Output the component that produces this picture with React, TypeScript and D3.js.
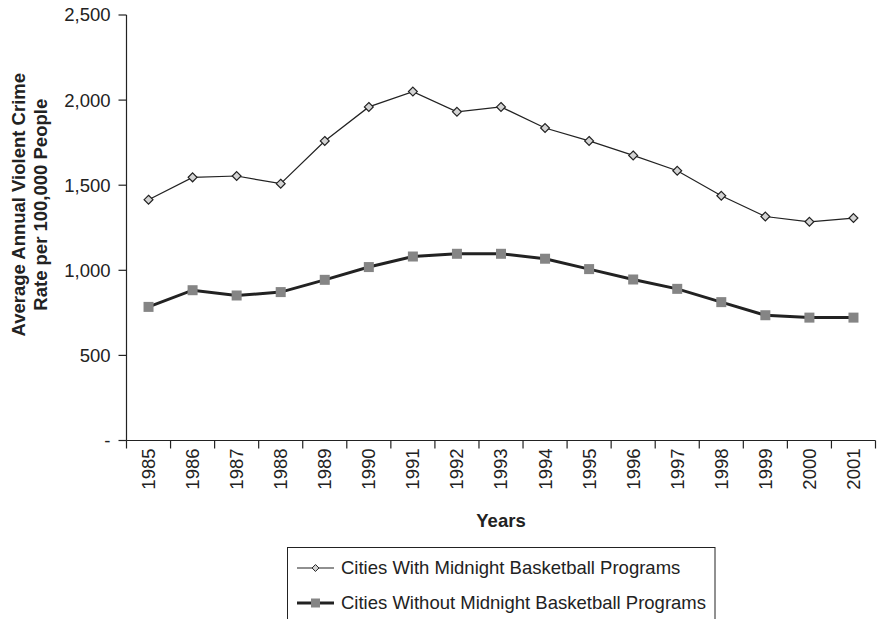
import { useEffect, useRef } from 'react';
import * as d3 from 'd3';

const years = ['1985', '1986', '1987', '1988', '1989', '1990', '1991', '1992', '1993',
  '1994', '1995', '1996', '1997', '1998', '1999', '2000', '2001'];
const withPrograms = [1415, 1546, 1554, 1509, 1760, 1960, 2050, 1931, 1960,
  1836, 1760, 1675, 1585, 1438, 1316, 1285, 1307];
const withoutPrograms = [785, 883, 852, 872, 944, 1019, 1081, 1097, 1097,
  1068, 1007, 946, 891, 813, 736, 722, 722];
const yTicks = [0, 500, 1000, 1500, 2000, 2500];
const seriesNames = ['Cities With Midnight Basketball Programs', 'Cities Without Midnight Basketball Programs'];

const App = () => {
  const svgRef = useRef<SVGSVGElement>(null);

  useEffect(() => {
    if (!svgRef.current) return;
    const svg = d3.select(svgRef.current);
    svg.selectAll('*').remove();

    const font = '"Liberation Sans", Arial, sans-serif';
    const left = 126.5, right = 875.5, top = 15, bottom = 440.5;
    const fs = 18.5;

    const x = d3.scaleBand().domain(years).range([left, right]);
    const y = d3.scaleLinear().domain([0, 2500]).range([bottom, top]);

    const g = svg.append('g').attr('font-family', font);

    // Y axis
    g.append('line')
      .attr('x1', left).attr('x2', left).attr('y1', top).attr('y2', bottom)
      .attr('stroke', '#222').attr('stroke-width', 1.2);
    yTicks.forEach(t => {
      g.append('line')
        .attr('x1', left - 8).attr('x2', left).attr('y1', y(t)).attr('y2', y(t))
        .attr('stroke', '#222').attr('stroke-width', 1.2);
      g.append('text')
        .attr('x', left - 16).attr('y', y(t)).attr('dy', '0.35em')
        .attr('text-anchor', 'end').attr('font-size', fs).attr('fill', '#222')
        .text(t === 0 ? '-' : d3.format(',')(t));
    });

    // X axis
    g.append('line')
      .attr('x1', left).attr('x2', right).attr('y1', bottom).attr('y2', bottom)
      .attr('stroke', '#222').attr('stroke-width', 1.2);
    const boundaries = years.map(yr => x(yr) as number).concat([right]);
    boundaries.forEach(bx => {
      g.append('line')
        .attr('x1', bx).attr('x2', bx).attr('y1', bottom).attr('y2', bottom + 8)
        .attr('stroke', '#222').attr('stroke-width', 1.2);
    });
    years.forEach(yr => {
      const cx = (x(yr) as number) + x.bandwidth() / 2;
      g.append('text')
        .attr('transform', `translate(${cx},${bottom + 8}) rotate(-90)`)
        .attr('text-anchor', 'end').attr('dy', '0.35em')
        .attr('font-size', fs).attr('fill', '#222')
        .text(yr);
    });

    // Axis titles
    g.append('text')
      .attr('x', (left + right) / 2).attr('y', 527)
      .attr('text-anchor', 'middle').attr('font-size', fs).attr('font-weight', 'bold')
      .attr('fill', '#222').text('Years');
    const yt = g.append('text')
      .attr('transform', `translate(28,${(top + bottom) / 2 - 23}) rotate(-90)`)
      .attr('text-anchor', 'middle').attr('font-size', fs).attr('font-weight', 'bold')
      .attr('fill', '#222');
    yt.append('tspan').attr('x', 0).attr('dy', '-0.15em').text('Average Annual Violent Crime');
    yt.append('tspan').attr('x', 0).attr('dy', '1.2em').text('Rate per 100,000 People');

    const cxOf = (i: number) => (x(years[i]) as number) + x.bandwidth() / 2;
    const line = d3.line<number>().x((_, i) => cxOf(i)).y(d => y(d));

    // Series without programs
    g.append('path').datum(withoutPrograms)
      .attr('d', line).attr('fill', 'none').attr('stroke', '#222').attr('stroke-width', 3);
    g.selectAll('.sq').data(withoutPrograms).enter().append('rect')
      .attr('x', (_, i) => cxOf(i) - 5).attr('y', d => y(d) - 5)
      .attr('width', 10).attr('height', 10).attr('fill', '#858585');

    // Series with programs
    g.append('path').datum(withPrograms)
      .attr('d', line).attr('fill', 'none').attr('stroke', '#222').attr('stroke-width', 1.2);
    const diamond = d3.symbol().type(d3.symbolDiamond2).size(50);
    g.selectAll('.dm').data(withPrograms).enter().append('path')
      .attr('d', diamond)
      .attr('transform', (d, i) => `translate(${cxOf(i)},${y(d)})`)
      .attr('fill', '#d4d4d4').attr('stroke', '#222').attr('stroke-width', 1.2);

    // Legend
    g.append('rect')
      .attr('x', 287.5).attr('y', 547.5).attr('width', 427.5).attr('height', 90)
      .attr('fill', 'none').attr('stroke', '#222').attr('stroke-width', 1);
    const rows = [568, 603];
    seriesNames.forEach((name, i) => {
      const ly = rows[i];
      g.append('line')
        .attr('x1', 297).attr('x2', 334).attr('y1', ly).attr('y2', ly)
        .attr('stroke', '#222').attr('stroke-width', i === 0 ? 1.2 : 3);
      if (i === 0) {
        g.append('path').attr('d', d3.symbol().type(d3.symbolDiamond2).size(30))
          .attr('transform', `translate(315.5,${ly})`)
          .attr('fill', '#d4d4d4').attr('stroke', '#222').attr('stroke-width', 1);
      } else {
        g.append('rect').attr('x', 311).attr('y', ly - 4.5).attr('width', 9).attr('height', 9)
          .attr('fill', '#858585');
      }
      g.append('text')
        .attr('x', 341).attr('y', ly).attr('dy', '0.35em')
        .attr('font-size', 18.5).attr('fill', '#222').text(name);
    });
  }, []);

  return (
    <svg ref={svgRef} width={877} height={619}
      style={{ position: 'absolute', left: 0, top: 0, background: '#fff' }} />
  );
};

export default App;
